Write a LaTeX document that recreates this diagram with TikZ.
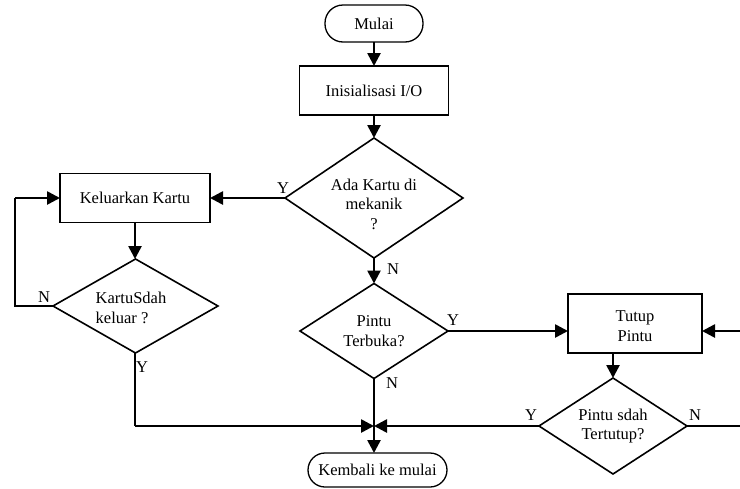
\documentclass[tikz,border=0pt]{standalone}
\usepackage{fontspec}
\setmainfont{Liberation Serif}
\usetikzlibrary{shapes.geometric,arrows.meta}
\begin{document}
\begin{tikzpicture}[x=1pt,y=-1pt,
  font=\fontsize{16.5}{19.5}\selectfont,
  box/.style={draw,line width=1.6pt,rectangle,inner sep=0,outer sep=0},
  pill/.style={draw,line width=1.3pt,rectangle,inner sep=0,outer sep=0},
  dia/.style={draw,line width=1.6pt,diamond,inner sep=0,outer sep=0},
  txt/.style={align=center,inner sep=0},
  lbl/.style={inner sep=0},
  arr/.style={line width=2.6pt,-{Triangle[length=13pt,width=13pt]}},
  thinln/.style={line width=1.6pt},
  thickln/.style={line width=2.6pt}
]
\useasboundingbox (0,0) rectangle (740,488);
% nodes
\node[pill,rounded corners=18pt,minimum width=98pt,minimum height=37pt] (m) at (374,23.5) {Mulai};
\node[box,minimum width=149pt,minimum height=49pt] (init) at (374,90.5) {Inisialisasi I/O};
\node[dia,minimum width=178pt,minimum height=120pt] (d1) at (374,198) {};
\node[txt] (t1) at (374,204) {Ada Kartu di\\mekanik\\?};
\node[box,minimum width=150pt,minimum height=49pt] (kk) at (135,198) {Keluarkan Kartu};
\node[dia,minimum width=165pt,minimum height=94pt] (d2) at (135.5,306) {};
\node[align=left,inner sep=0] (t2) at (131,308) {KartuSdah\\keluar ?};
\node[dia,minimum width=148pt,minimum height=95pt] (d3) at (374,331) {};
\node[txt] (t3) at (374,331) {Pintu\\Terbuka?};
\node[box,minimum width=134pt,minimum height=59pt] (tp) at (635,323.5) {};
\node[txt] (t4) at (635,326) {Tutup\\Pintu};
\node[dia,minimum width=148pt,minimum height=96pt] (d4) at (613,426) {};
\node[txt] (t5) at (613,426) {Pintu sdah\\Tertutup?};
\node[pill,rounded corners=17pt,minimum width=139pt,minimum height=34pt] (k) at (377.5,470) {Kembali ke mulai};
% coordinates
\coordinate (j) at (374,426);
\coordinate (c1) at (15,306);
\coordinate (c2) at (15,198);
\coordinate (c3) at (135,426);
\coordinate (r1) at (740,331);
\coordinate (r2) at (740,426);
% connectors
\draw[arr] (m.south) -- (init.north);
\draw[arr] (init.south) -- (d1.north);
\draw[arr] (d1.west) -- (kk.east);
\draw[arr] (kk.south) -- (d2.north -| kk.south);
\draw[thinln] (d2.west) -- (c1) -- (c2);
\draw[arr] (c2) -- (kk.west);
\draw[arr] (d1.south) -- (d3.north);
\draw[arr] (d3.east) -- (tp.west |- d3.east);
\draw[arr] (r1) -- (tp.east |- r1);
\draw[arr] (d4.north |- tp.south) -- (d4.north);
\draw[thinln] (d4.east) -- (r2);
\draw[arr] (d4.west) -- (j);
\draw[thinln] (d2.south -| c3) -- (c3);
\draw[arr] (c3) -- (j);
\draw[arr] (d3.south) -- (d3.south |- k.north);
% labels
\node[lbl] (l1) at (283,188) {Y};
\node[lbl] (l2) at (393,269) {N};
\node[lbl] (l3) at (44,297) {N};
\node[lbl] (l4) at (142,367) {Y};
\node[lbl] (l5) at (453,320) {Y};
\node[lbl] (l6) at (392,383) {N};
\node[lbl] (l7) at (531,415) {Y};
\node[lbl] (l8) at (695,415) {N};
\end{tikzpicture}
\end{document}
